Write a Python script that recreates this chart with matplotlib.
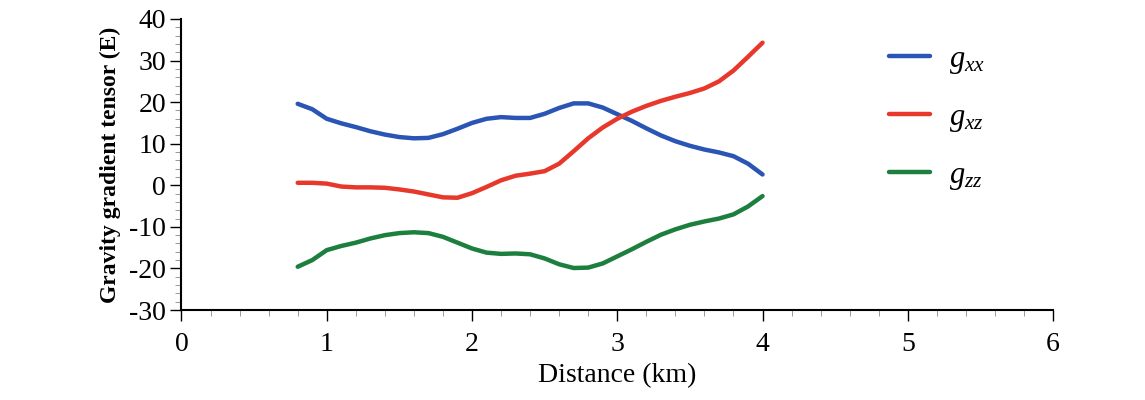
import numpy as np
import matplotlib
matplotlib.use('Agg')
import matplotlib.pyplot as plt
from matplotlib.ticker import MultipleLocator

plt.rcParams['font.family'] = 'Liberation Serif'
plt.rcParams['mathtext.fontset'] = 'custom'
plt.rcParams['mathtext.it'] = 'Liberation Serif:italic'
plt.rcParams['mathtext.rm'] = 'Liberation Serif'
plt.rcParams['axes.unicode_minus'] = False

# distance (km)
dist = [0.8, 0.9, 1.0, 1.1, 1.2, 1.3, 1.4, 1.5, 1.6, 1.7, 1.8, 1.9, 2.0, 2.1, 2.2, 2.3, 2.4,
        2.5, 2.6, 2.7, 2.8, 2.9, 3.0, 3.1, 3.2, 3.3, 3.4, 3.5, 3.6, 3.7, 3.8, 3.9, 4.0]
gxx = [19.6, 18.3, 16.0, 14.9, 14.0, 13.0, 12.2, 11.6, 11.3, 11.4, 12.3, 13.6, 15.0, 16.0, 16.4, 16.2, 16.2,
       17.2, 18.6, 19.7, 19.7, 18.7, 17.1, 15.5, 13.7, 12.0, 10.6, 9.5, 8.6, 7.9, 7.0, 5.2, 2.6]
gxz = [0.6, 0.6, 0.4, -0.3, -0.5, -0.5, -0.6, -1.0, -1.5, -2.2, -2.9, -3.0, -1.9, -0.4, 1.2, 2.3, 2.8,
       3.4, 5.2, 8.2, 11.3, 13.9, 16.0, 17.7, 19.1, 20.3, 21.3, 22.2, 23.3, 25.0, 27.6, 30.9, 34.3]
gzz = [-19.6, -18.0, -15.6, -14.6, -13.8, -12.8, -12.0, -11.5, -11.3, -11.5, -12.4, -13.8, -15.2, -16.2, -16.5, -16.4, -16.6,
       -17.6, -19.0, -19.9, -19.8, -18.8, -17.1, -15.4, -13.6, -11.9, -10.6, -9.5, -8.7, -8.0, -7.0, -5.1, -2.6]

fig = plt.figure(figsize=(11.45, 4.0), dpi=100)
ax = fig.add_axes([0.1585, 0.225, 0.7612, 0.7275])

kw = dict(lw=3.2, solid_joinstyle='round', solid_capstyle='round')
ax.plot(dist, gxx, color='#2a55b5', label='$g_{xx}$', **kw)
ax.plot(dist, gxz, color='#e8382b', label='$g_{xz}$', **kw)
ax.plot(dist, gzz, color='#1c7f3e', label='$g_{zz}$', **kw)

ax.set_xlim(0, 6)
ax.set_ylim(-30, 40)
ax.xaxis.set_major_locator(MultipleLocator(1))
ax.xaxis.set_minor_locator(MultipleLocator(0.2))
ax.yaxis.set_major_locator(MultipleLocator(10))
ax.yaxis.set_minor_locator(MultipleLocator(2))
ax.spines['top'].set_visible(False)
ax.spines['right'].set_visible(False)
ax.spines['left'].set_linewidth(1.5)
ax.spines['bottom'].set_linewidth(1.5)
ax.tick_params(which='major', length=8, width=1, labelsize=20, direction='out')
ax.tick_params(axis='x', which='major', pad=8)
ax.tick_params(axis='y', which='major', pad=3)
ax.tick_params(which='minor', length=4, width=0.6, color='#888888', direction='out')

ax.set_xlabel('Distance (km)', fontsize=20, labelpad=4)
ax.set_ylabel('Gravity gradient tensor (E)', fontsize=17, fontweight='bold', labelpad=6)

ax.legend(loc='upper left', bbox_to_anchor=(0.812, 0.912), frameon=False, fontsize=22,
          borderpad=0, borderaxespad=0,
          handlelength=1.35, handletextpad=0.6, labelspacing=0.89)

fig.savefig('out.png', dpi=100)
